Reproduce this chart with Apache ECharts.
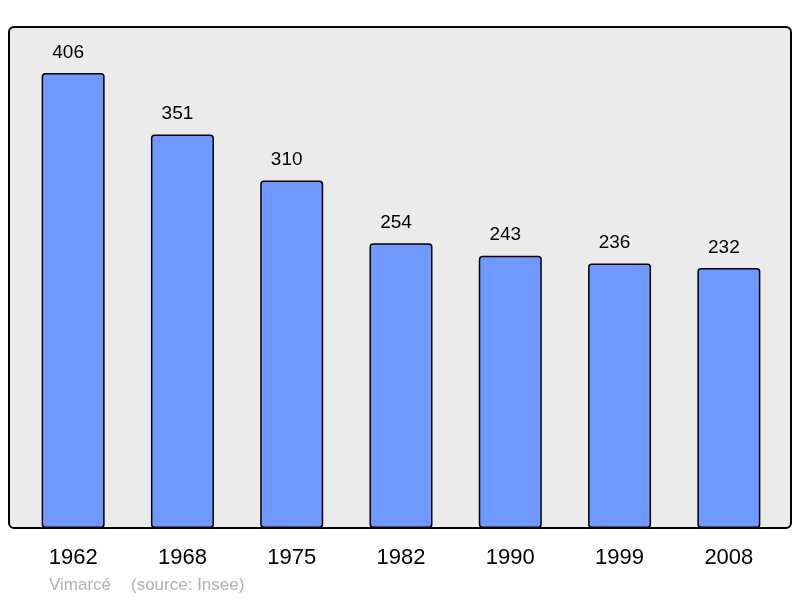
<!DOCTYPE html>
<html><head><meta charset="utf-8">
<script src="https://cdn.jsdelivr.net/npm/echarts@6/dist/echarts.min.js"></script>
<style>html,body{margin:0;padding:0;background:#fff}#c{width:800px;height:598px}</style>
</head><body><div id="c"></div>
<script>
const categories = ['1962','1968','1975','1982','1990','1999','2008'];
const population = [406, 351, 310, 254, 243, 236, 232];
const footerName = 'Vimarcé';
const footerSource = '(source: Insee)';

const chart = echarts.init(document.getElementById('c'), null, {renderer:'canvas'});
chart.setOption({
  animation:false,
  backgroundColor:'#ffffff',
  graphic:[
    {type:'rect', shape:{x:9,y:27,width:782,height:501,r:5}, style:{fill:'#ebebeb',stroke:'#000',lineWidth:2}, z:-10},
    {type:'text', left:49, top:577, style:{text:footerName, fill:'#b0b0b0', font:'17px "Liberation Sans", Arial, sans-serif'}},
    {type:'text', left:131, top:577, style:{text:footerSource, fill:'#b0b0b0', font:'17px "Liberation Sans", Arial, sans-serif'}}
  ],
  grid:{left:18.5, right:16.5, top:27, bottom:70},
  xAxis:{type:'category', data:categories,
    axisLine:{show:false}, axisTick:{show:false},
    axisLabel:{color:'#000', fontSize:22, fontFamily:'"Liberation Sans", Arial, sans-serif', margin:19, offset:[0,0]}},
  yAxis:{type:'value', min:0, max:447, show:false, splitLine:{show:false}},
  series:[{type:'bar', data:population, barWidth:63,
    itemStyle:{color:'#7099ff', borderColor:'#000', borderWidth:1.5, borderRadius:3},
    label:{show:true, position:'top', distance:11, offset:[-5,0], color:'#000', fontSize:19, fontFamily:'"Liberation Sans", Arial, sans-serif'}
  }]
});
</script></body></html>
